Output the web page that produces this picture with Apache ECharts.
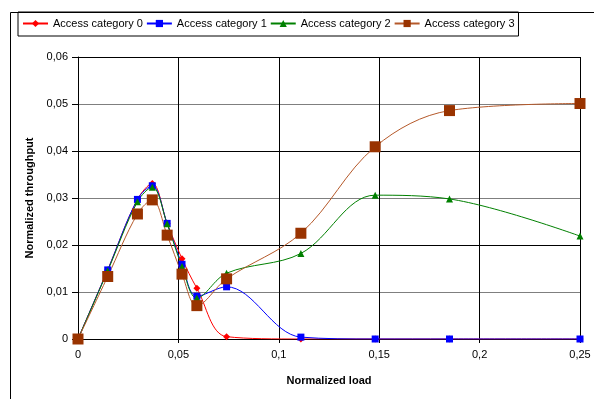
<!DOCTYPE html>
<html><head><meta charset="utf-8">
<script src="https://cdn.jsdelivr.net/npm/echarts@6/dist/echarts.min.js"></script>
<style>html,body{margin:0;padding:0;background:#fff}#c{width:594px;height:399px}</style>
</head><body><div id="c"></div>
<script>
const loadX = [0, 0.0148, 0.0296, 0.037, 0.0444, 0.0518, 0.0592, 0.074, 0.111, 0.148, 0.185, 0.25];
const ac0 = [0, 0.0147, 0.0297, 0.0331, 0.0246, 0.0171, 0.0108, 0.0005, 0.0000, 0, 0, 0];
const ac1 = [0, 0.0147, 0.0297, 0.0326, 0.0246, 0.0159, 0.0091, 0.0111, 0.0004, 0, 0, 0];
const ac2 = [0, 0.0145, 0.0292, 0.0323, 0.0245, 0.0154, 0.0087, 0.0140, 0.0182, 0.0306, 0.0298, 0.0219];
const ac3 = [0, 0.0133, 0.0266, 0.0296, 0.0221, 0.0138, 0.0071, 0.0128, 0.0225, 0.0409, 0.0486, 0.0501];
const names = ['Access category 0', 'Access category 1', 'Access category 2', 'Access category 3'];
const yTicks = {min: 0, max: 0.06, interval: 0.01};
const xTicks = {min: 0, max: 0.25, interval: 0.05};

const F = "'Liberation Sans', Arial, sans-serif";
const pairs = arr => loadX.map((x, i) => [x, arr[i]]);
const fmt = (v, d) => String(Number(v.toFixed(d))).replace('.', ',');

const styles = [
  {line: '#ff0000', item: '#ff0000', symbol: 'diamond', size: 7},
  {line: '#0000ff', item: '#0000ff', symbol: 'rect', size: 7},
  {line: '#008000', item: '#008000', symbol: 'triangle', size: 7},
  {line: '#b5592a', item: '#993300', symbol: 'rect', size: 11}
];
const data = [ac0, ac1, ac2, ac3];

const chart = echarts.init(document.getElementById('c'), null, {renderer: 'canvas'});
chart.setOption({
  animation: false,
  textStyle: {fontFamily: F},
  graphic: [{type: 'rect', left: 8, top: 10, shape: {x: 0, y: 0, width: 700, height: 500},
    style: {fill: 'none', stroke: '#000', lineWidth: 1}, silent: true, z: -1}],
  legend: {
    left: 18, top: 12, padding: [6, 4, 7, 4],
    borderColor: '#000', borderWidth: 1, borderRadius: 0,
    itemWidth: 25, itemHeight: 9, itemGap: 3,
    textStyle: {fontFamily: F, fontSize: 11, color: '#000'},
    data: names
  },
  grid: {left: 78, right: 14, top: 57, bottom: 60, containLabel: false},
  xAxis: {
    type: 'value', min: xTicks.min, max: xTicks.max, interval: xTicks.interval,
    name: 'Normalized load', nameLocation: 'middle', nameGap: 36,
    nameTextStyle: {fontFamily: F, fontSize: 11, fontWeight: 'bold', color: '#000'},
    axisLine: {lineStyle: {color: '#000', width: 1}},
    axisTick: {show: true, length: 4, lineStyle: {color: '#000'}},
    axisLabel: {fontFamily: F, fontSize: 11, color: '#000', margin: 10, formatter: v => fmt(v, 3)},
    splitLine: {show: true, lineStyle: {color: '#000', width: 1}}
  },
  yAxis: {
    type: 'value', min: yTicks.min, max: yTicks.max, interval: yTicks.interval,
    name: 'Normalized throughput', nameLocation: 'middle', nameGap: 42, nameRotate: 90,
    nameTextStyle: {fontFamily: F, fontSize: 11, fontWeight: 'bold', color: '#000'},
    axisLine: {show: true, lineStyle: {color: '#000', width: 1}},
    axisTick: {show: true, length: 6, lineStyle: {color: '#000'}},
    axisLabel: {fontFamily: F, fontSize: 11, color: '#000', margin: 10, formatter: v => fmt(v, 2)},
    splitLine: {show: true, lineStyle: {color: ['#000', '#7f7f7f', '#000', '#7f7f7f', '#000', '#7f7f7f', '#000'], width: 1}}
  },
  series: data.map((arr, i) => ({
    name: names[i], type: 'line', data: pairs(arr), smooth: 0.35,
    symbol: styles[i].symbol, symbolSize: styles[i].size, showAllSymbol: true,
    lineStyle: {color: styles[i].line, width: 1},
    itemStyle: {color: styles[i].item, borderWidth: 0},
    emphasis: {disabled: true}
  }))
});
</script></body></html>
